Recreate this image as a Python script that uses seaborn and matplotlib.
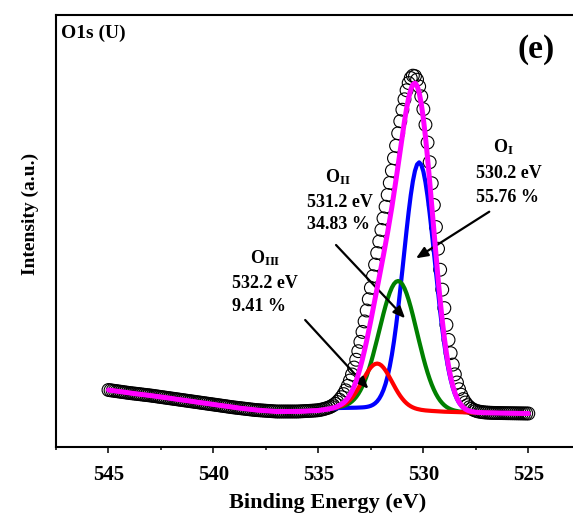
import numpy as np
import pandas as pd
import matplotlib
matplotlib.use("Agg")
import matplotlib.pyplot as plt
import seaborn as sns

# ---- O1s fit components --------------------------------------------------
peak_names = [r"$\mathbf{O_{I}}$", r"$\mathbf{O_{II}}$", r"$\mathbf{O_{III}}$"]
peak_centers = [530.2, 531.2, 532.2]          # binding energy, eV
peak_percent = [55.76, 34.83, 9.41]           # share of fitted area, %
peak_fwhm = [1.75, 2.12, 1.65]                # eV
peak_colors = ["#0000FF", "#008000", "#FF0000"]
envelope_color = "#FF00FF"
total_peak_area = 41400.0                     # counts * eV

# ---- background under the fit (binding energy, counts) -------------------
bg_energy = [545, 544, 543, 542, 541, 540, 539, 538, 537, 536, 535, 534,
             533, 532, 531, 530, 529, 528, 527, 526, 525]
bg_counts = [12850, 12700, 12575, 12425, 12275, 12125, 11975, 11850, 11775,
             11775, 11825, 11950, 11965, 11950, 11900, 11825, 11765, 11730,
             11710, 11690, 11675]

# ---- measured spectrum, 545.0 -> 525.0 eV in 0.1 eV steps ----------------
measured_counts = [
    12850, 12835, 12820, 12805, 12790, 12775, 12760, 12745, 12730, 12715,
    12700, 12687, 12675, 12663, 12650, 12638, 12625, 12612, 12600, 12588,
    12575, 12560, 12545, 12530, 12515, 12500, 12485, 12470, 12455, 12440,
    12425, 12410, 12395, 12380, 12365, 12350, 12335, 12320, 12305, 12290,
    12275, 12260, 12245, 12230, 12215, 12200, 12185, 12170, 12155, 12140,
    12125, 12110, 12095, 12080, 12065, 12050, 12035, 12020, 12005, 11990,
    11975, 11963, 11950, 11938, 11925, 11913, 11900, 11888, 11875, 11863,
    11850, 11843, 11835, 11828, 11820, 11813, 11805, 11798, 11790, 11783,
    11775, 11775, 11775, 11775, 11775, 11775, 11775, 11775, 11775, 11775,
    11775, 11780, 11785, 11791, 11796, 11802, 11808, 11815, 11822, 11830,
    11840, 11860, 11883, 11910, 11943, 11978, 12025, 12085, 12159, 12250,
    12362, 12490, 12645, 12834, 13058, 13321, 13626, 13973, 14362, 14791,
    15257, 15754, 16278, 16824, 17386, 17959, 18538, 19118, 19697, 20276,
    20854, 21432, 22014, 22604, 23205, 23816, 24437, 25063, 25684, 26289,
    26863, 27385, 27836, 28197, 28447, 28567, 28542, 28364, 28027, 27533,
    26890, 26114, 25222, 24239, 23189, 22100, 20999, 19913, 18863, 17868,
    16944, 16105, 15354, 14692, 14120, 13633, 13225, 12889, 12615, 12396,
    12224, 12091, 11989, 11913, 11855, 11813, 11782, 11762, 11745, 11732,
    11723, 11717, 11711, 11707, 11704, 11701, 11699, 11696, 11694, 11692,
    11690, 11689, 11687, 11686, 11684, 11683, 11681, 11680, 11678, 11677,
    11675,
]
energy = np.linspace(545, 525, len(measured_counts))


def gauss_peak(e, center, fwhm, area):
    """Gaussian line of given area and full width at half maximum."""
    height = area / (fwhm * np.sqrt(np.pi / (4 * np.log(2))))
    return height * np.exp(-4 * np.log(2) * ((e - center) / fwhm) ** 2)


background = np.interp(energy, bg_energy[::-1], bg_counts[::-1])
components = [gauss_peak(energy, c, w, total_peak_area * p / 100)
              for c, w, p in zip(peak_centers, peak_fwhm, peak_percent)]
envelope = background + sum(components)

# ---- style ----------------------------------------------------------------
sns.set_style("ticks")
plt.rcParams["font.family"] = ["Liberation Serif", "DejaVu Serif"]
plt.rcParams["font.weight"] = "bold"
plt.rcParams["text.color"] = "black"
plt.rcParams["axes.labelcolor"] = "black"
plt.rcParams["xtick.color"] = "black"
plt.rcParams["ytick.color"] = "black"
plt.rcParams["mathtext.fontset"] = "custom"
plt.rcParams["mathtext.rm"] = "Liberation Serif:bold"
plt.rcParams["mathtext.bf"] = "Liberation Serif:bold"
plt.rcParams["mathtext.it"] = "Liberation Serif:bold"

fig = plt.figure(figsize=(5.73, 5.17), dpi=100)
ax = fig.add_axes([0.09773, 0.13540, 0.91588, 0.83559])

# measured points as open circles
df = pd.DataFrame({"energy": energy, "counts": measured_counts})
sns.scatterplot(data=df, x="energy", y="counts", ax=ax, marker="o", s=85,
                legend=False, zorder=2)
pts = ax.collections[-1]
pts.set_facecolor("none")
pts.set_edgecolor("black")
pts.set_linewidth(0.8)

# fitted components (each on the background) and the envelope
for comp, col in zip(components, peak_colors):
    sns.lineplot(x=energy, y=background + comp, ax=ax, color=col,
                 linewidth=3.0, estimator=None, sort=False, zorder=3)
sns.lineplot(x=energy, y=envelope, ax=ax, color=envelope_color,
             linewidth=3.6, estimator=None, sort=False, zorder=4)

# ---- axes -----------------------------------------------------------------
ax.set_xlim(547.5, 522.5)
ax.set_ylim(10000, 31600)
ax.set_xticks([545, 540, 535, 530, 525])
ax.set_xticks(np.arange(547.5, 522, -2.5), minor=True)
ax.set_yticks([])
ax.tick_params(axis="x", which="major", direction="out", length=4.5,
               width=1.1, labelsize=15, pad=8.5, colors="black")
ax.tick_params(axis="x", which="minor", direction="out", length=2.5,
               width=1.1, colors="black")
for s in ax.spines.values():
    s.set_linewidth(1.5)
    s.set_color("black")
ax.set_xlabel("")
ax.set_ylabel("")

fig.text(328 / 573, 1 - 508 / 517, "Binding Energy (eV)", ha="center",
         va="baseline", fontsize=16, fontweight="bold", color="black")
fig.text(30 / 573, 1 - 214 / 517, "Intensity (a.u.)", ha="center",
         va="center", rotation=90, fontsize=14, fontweight="bold",
         color="black")
ax.text(0.0095, 0.948, "O1s (U)", transform=ax.transAxes, ha="left",
        va="baseline", fontsize=14, fontweight="bold", color="black")
ax.text(0.9156, 0.9005, "(e)", transform=ax.transAxes, ha="center",
        va="baseline", fontsize=24, fontweight="bold", color="black")

# peak annotations: name position, text x, eV line y, % line y,
# arrow tail and arrow head (data coordinates)
annot_name_xy = [(526.68, 24750), (534.69, 23250), (538.25, 19200)]
annot_text_x = [527.49, 535.54, 539.11]
annot_ev_y = [23450, 22000, 17950]
annot_pct_y = [22250, 20900, 16800]
arrow_tail = [(526.86, 21765), (534.16, 20100), (535.63, 16350)]
arrow_head = [(530.35, 19435), (530.87, 16435), (532.62, 12910)]

for i, (name, c, p) in enumerate(zip(peak_names, peak_centers, peak_percent)):
    nx, ny = annot_name_xy[i]
    ax.text(nx, ny, name, ha="left", va="baseline", fontsize=13,
            color="black")
    ax.text(annot_text_x[i], annot_ev_y[i], f"{c:.1f} eV", ha="left",
            va="baseline", fontsize=13, fontweight="bold", color="black")
    ax.text(annot_text_x[i], annot_pct_y[i], f"{p:.2f} %", ha="left",
            va="baseline", fontsize=13, fontweight="bold", color="black")
    ax.annotate("", xy=arrow_head[i], xytext=arrow_tail[i],
                arrowprops=dict(arrowstyle="-|>,head_length=0.7,head_width=0.3",
                                color="black", lw=1.6, shrinkA=0, shrinkB=0))

fig.savefig("out.png", dpi=100)
